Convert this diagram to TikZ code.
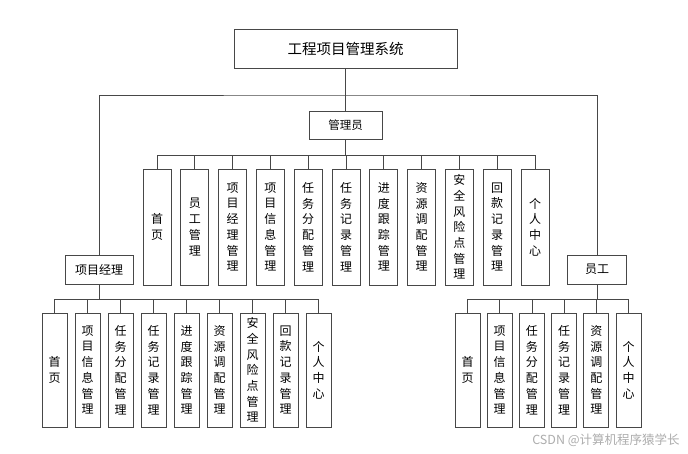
\documentclass[tikz,border=0pt]{standalone}
\usepackage{fontspec}
\newfontfamily\cjk{Noto Sans CJK SC}
\usetikzlibrary{positioning}

\tikzset{
  box/.style={draw=black!72, line width=0.8pt, fill=white, inner sep=1pt,
              font=\cjk\fontsize{12}{15.7}\selectfont},
  leafA/.style={box, align=center, minimum width=28pt, minimum height=116pt},
  leafB/.style={box, align=center, minimum width=25pt, minimum height=114pt},
  link/.style={draw=black!72, line width=0.8pt}
}

\begin{document}
\begin{tikzpicture}[x=1pt, y=-1pt]
  \useasboundingbox[fill=white] (0,0) rectangle (688,453);
  % top levels
  \node[box, minimum width=223pt, minimum height=39pt,
        font=\cjk\fontsize{14.5}{16}\selectfont] (sys) at (345.5,48.5) {工程项目管理系统};
  \node[box, minimum width=73pt, minimum height=28pt,
        font=\cjk\fontsize{11.5}{14}\selectfont] (admin) at (345.5,125) {管理员};
  \node[box, minimum width=68pt, minimum height=29pt] (pm) at (99,269.5) {项目经理};
  \node[box, minimum width=59pt, minimum height=29pt] (staff) at (597,269.5) {员工};
  \coordinate (bus) at (345.5,95);
  \draw[link] (sys) -- (admin);
  \draw[link] (pm.north) |- (bus) -| (staff.north);
  % admin
  \foreach \txt [count=\i from 0] in {首\\页, 员\\工\\管\\理, 项\\目\\经\\理\\管\\理,
      项\\目\\信\\息\\管\\理, 任\\务\\分\\配\\管\\理, 任\\务\\记\\录\\管\\理,
      进\\度\\跟\\踪\\管\\理, 资\\源\\调\\配\\管\\理, 安\\全\\风\\险\\点\\管\\理,
      回\\款\\记\\录\\管\\理, 个\\人\\中\\心}
  {
    \node[leafA] (a\i) at (157+37.8*\i,227) {\txt};
    \draw[link] (admin.south) -- ++(0,16) -| (a\i.north);
  }
  % project manager
  \foreach \txt [count=\i from 0] in {首\\页, 项\\目\\信\\息\\管\\理,
      任\\务\\分\\配\\管\\理, 任\\务\\记\\录\\管\\理, 进\\度\\跟\\踪\\管\\理,
      资\\源\\调\\配\\管\\理, 安\\全\\风\\险\\点\\管\\理, 回\\款\\记\\录\\管\\理,
      个\\人\\中\\心}
  {
    \node[leafB] (p\i) at (54.5+33*\i,370) {\txt};
    \draw[link] (pm.south) -- ++(0,15) -| (p\i.north);
  }
  % staff
  \foreach \txt [count=\i from 0] in {首\\页, 项\\目\\信\\息\\管\\理,
      任\\务\\分\\配\\管\\理, 任\\务\\记\\录\\管\\理, 资\\源\\调\\配\\管\\理,
      个\\人\\中\\心}
  {
    \node[leafB] (s\i) at (467.5+32.2*\i,370) {\txt};
    \draw[link] (staff.south) -- ++(0,15) -| (s\i.north);
  }
  \node[font=\cjk\fontsize{12.5}{14}\selectfont, text=black!32] (mark) at (606,440) {CSDN @计算机程序猿学长};
\end{tikzpicture}
\end{document}
